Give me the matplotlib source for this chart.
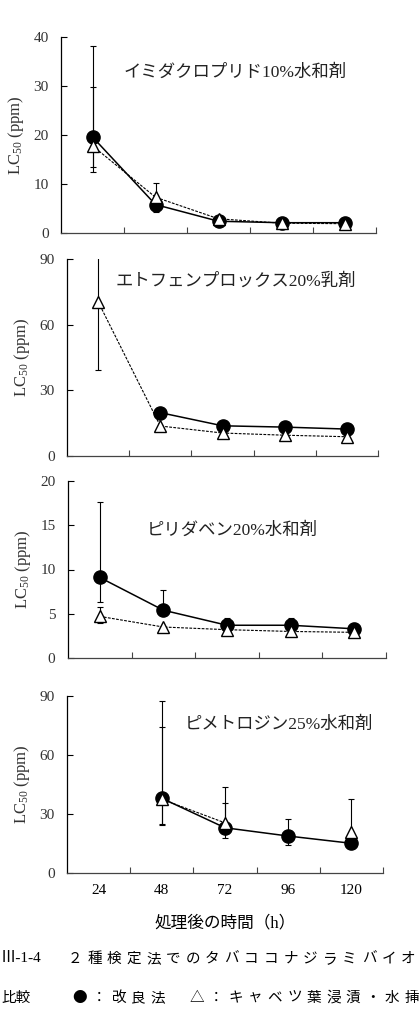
"""
LC50 of four insecticides vs. time after treatment, two bioassay methods
(filled circle: improved method, open triangle: cabbage leaf dip).
"""

import numpy as np
import matplotlib

matplotlib.use("Agg")
import matplotlib.pyplot as plt  # noqa: E402

plt.rcParams["font.family"] = ["Liberation Serif", "Noto Sans CJK JP"]
plt.rcParams["mathtext.fontset"] = "custom"
plt.rcParams["mathtext.rm"] = "Liberation Serif"
plt.rcParams["mathtext.it"] = "Liberation Serif"

nan = np.nan

HOURS = ["24", "48", "72", "96", "120"]

TITLES = ["イミダクロプリド10%水和剤", "エトフェンプロックス20%乳剤",
          "ピリダベン20%水和剤", "ピメトロジン25%水和剤"]
YMAX = [40, 90, 20, 90]
YSTEP = [10, 30, 5, 30]

# improved method (filled circles): value, lower / upper error limits
CIRC = [[19.6, 5.8, 2.4, 2.1, 2.1],
        [nan, 19.8, 13.8, 13.2, 12.3],
        [9.1, 5.4, 3.7, 3.7, 3.3],
        [nan, 38.0, 23.0, 18.8, 15.1]]
CIRC_LO = [[12.5, 4.3, nan, nan, nan],
           [nan, nan, nan, nan, nan],
           [6.3, nan, nan, nan, nan],
           [nan, 25.0, 18.0, 14.0, 13.0]]
CIRC_HI = [[38.2, nan, nan, nan, nan],
           [nan, nan, nan, nan, nan],
           [17.6, 7.7, 4.5, 4.5, 4.0],
           [nan, 74.0, 35.4, 27.4, nan]]

# cabbage leaf dip (open triangles)
TRI = [[17.8, 7.3, 2.9, 2.0, 1.9],
       [70.5, 13.7, 10.5, 9.5, 8.8],
       [4.7, 3.5, 3.2, 3.0, 2.9],
       [nan, 37.5, 25.5, nan, 21.0]]
TRI_LO = [[13.5, nan, nan, nan, nan],
          [39.5, nan, nan, nan, nan],
          [4.0, nan, nan, nan, nan],
          [nan, 24.2, nan, nan, nan]]
TRI_HI = [[29.8, 10.2, nan, nan, nan],
          [100.0, nan, nan, nan, nan],
          [5.8, nan, nan, nan, nan],
          [nan, 87.6, 43.8, nan, 37.6]]

CAPTION1_HEAD = "Ⅲ-1-4"
CAPTION1 = "２種検定法でのタバココナジラミバイオ"
CAPTION2_HEAD = "比較"
CAPTION2 = "●：改良法　△：キャベツ葉浸漬・水挿"

W, H = 420, 1036
# axes boxes in pixels: left, top, right, bottom
BOXES = [(61, 37, 376, 233), (67, 259, 378, 456),
         (68, 481, 386, 658), (67, 696, 383, 873)]
TITLE_POS = [(235, 73), (236, 281), (232, 531), (279, 725)]


def err(y, lo, hi):
    y, lo, hi = map(np.asarray, (y, lo, hi))
    lo = np.where(np.isnan(lo), y, lo)
    hi = np.where(np.isnan(hi), y, hi)
    return [y - lo, hi - y]


fig = plt.figure(figsize=(W / 100, H / 100), dpi=100)
x = np.arange(len(HOURS))

for i in range(4):
    l, t, r, b = BOXES[i]
    ax = fig.add_axes([l / W, 1 - b / H, (r - l) / W, (b - t) / H])

    ax.errorbar(x, TRI[i], yerr=err(TRI[i], TRI_LO[i], TRI_HI[i]),
                fmt="none", ecolor="black", elinewidth=0.8, capsize=2.5,
                capthick=0.8, zorder=2)
    ax.errorbar(x, CIRC[i], yerr=err(CIRC[i], CIRC_LO[i], CIRC_HI[i]),
                fmt="none", ecolor="black", elinewidth=0.8, capsize=2.5,
                capthick=0.8, zorder=2)
    ax.plot(x, CIRC[i], "-", color="black", lw=1.1, marker="o",
            ms=9.5, mfc="black", mec="black", zorder=3)
    ax.plot(x, TRI[i], "--", color="black", lw=0.8, dashes=(2.5, 1.2),
            marker="^", ms=8, mfc="white", mec="black", mew=1.0, zorder=4)

    ax.set_xlim(-0.5, len(HOURS) - 0.5)
    ax.set_ylim(0, YMAX[i])
    ax.set_yticks(np.arange(0, YMAX[i] + 0.1, YSTEP[i]))
    ax.set_xticks(x)
    ax.set_xticks(np.arange(0.5, len(HOURS)), minor=True)
    ax.tick_params(axis="x", which="major", length=0, pad=8,
                   labelsize=11)
    ax.tick_params(axis="x", which="minor", direction="in", length=4,
                   width=0.8, color="#444444")
    ax.tick_params(axis="y", direction="in", length=4, width=0.8, pad=9,
                   labelsize=11, labelcolor="#333333")
    if i < 3:
        ax.set_xticklabels([])
    else:
        ax.set_xticklabels(HOURS)
    for s in ("top", "right"):
        ax.spines[s].set_visible(False)
    ax.spines["left"].set_linewidth(0.9)
    ax.spines["bottom"].set_linewidth(0.9)
    ax.spines["bottom"].set_color("#444444")
    ax.set_ylabel("LC$_{50}$ (ppm)", fontsize=12, labelpad=5,
                  color="#333333")

    tx, ty = TITLE_POS[i]
    fig.text(tx / W, 1 - ty / H, TITLES[i], ha="center", va="center",
             fontsize=12.5, color="#222222")

fig.text(225 / W, 1 - 923 / H, "処理後の時間（h）", ha="center",
         va="center", fontsize=12)


def spaced(text, x0, y, pitch, **kw):
    # caption is typeset on a fixed full-width grid
    for k, ch in enumerate(text):
        fig.text((x0 + k * pitch) / W, 1 - y / H, ch, ha="center",
                 va="center", family="Noto Sans CJK JP", **kw)


fig.text(1 / W, 1 - 959 / H, CAPTION1_HEAD, ha="left", va="center",
         fontsize=11)
spaced(CAPTION1, 75, 959, 19.6, fontsize=10.5)
fig.text(1 / W, 1 - 998 / H, CAPTION2_HEAD, ha="left", va="center",
         fontsize=10.5, family="Noto Sans CJK JP")
spaced(CAPTION2, 80, 998, 19.5, fontsize=10.5)

fig.savefig("out.png", dpi=100)
